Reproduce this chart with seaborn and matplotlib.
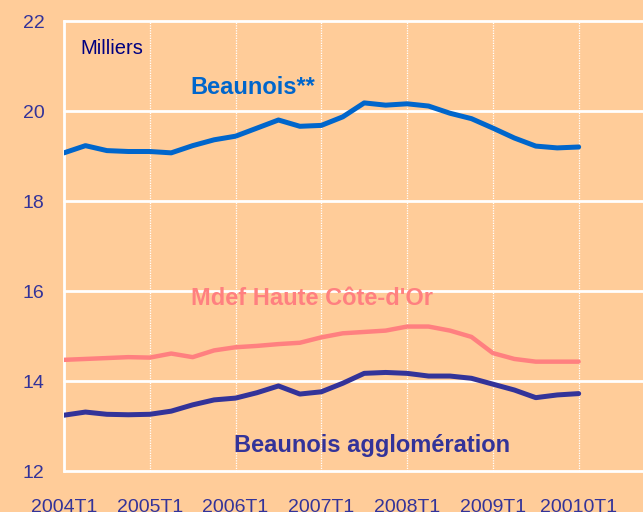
import seaborn as sns
import matplotlib.pyplot as plt
import pandas as pd
import numpy as np

# Trimestres 2004T1 -> 2010T1
trimestres = list(range(25))
annees = ['2004T1', '2005T1', '2006T1', '2007T1', '2008T1', '2009T1', '20010T1']

beaunois = [19.07, 19.23, 19.12, 19.10, 19.10, 19.07, 19.23, 19.36, 19.44, 19.62,
            19.80, 19.66, 19.68, 19.87, 20.18, 20.13, 20.16, 20.11, 19.95, 19.83,
            19.62, 19.40, 19.22, 19.18, 19.20]
mdef = [14.47, 14.49, 14.51, 14.53, 14.52, 14.61, 14.53, 14.68, 14.75, 14.78,
        14.82, 14.85, 14.97, 15.06, 15.09, 15.12, 15.21, 15.21, 15.12, 14.98,
        14.62, 14.49, 14.43, 14.43, 14.43]
agglo = [13.24, 13.31, 13.26, 13.25, 13.26, 13.33, 13.47, 13.58, 13.62, 13.74,
         13.89, 13.71, 13.76, 13.95, 14.17, 14.19, 14.17, 14.11, 14.11, 14.06,
         13.93, 13.80, 13.63, 13.69, 13.72]

df = pd.DataFrame({'trim': trimestres, 'beaunois': beaunois, 'mdef': mdef, 'agglo': agglo})

fond = '#FFCC99'
sns.set_style('white', {'axes.facecolor': fond, 'figure.facecolor': fond})
plt.rcParams['font.family'] = ['Liberation Sans', 'DejaVu Sans']

fig = plt.figure(figsize=(6.43, 5.12), dpi=100)
ax = fig.add_axes([64 / 643, 41 / 512, 579 / 643, 450 / 512])

# Grille
for v in [12, 14, 16, 18, 20, 22]:
    ax.axhline(v, color='white', lw=2, zorder=1, clip_on=False)
for x in range(4, 25, 4):
    ax.axvline(x, color='white', lw=0.9, ls=(0, (1, 1)), zorder=1)

sns.lineplot(data=df, x='trim', y='beaunois', color='#0066CC', lw=3.6, ax=ax, zorder=3)
sns.lineplot(data=df, x='trim', y='mdef', color='#FF8080', lw=3.2, ax=ax, zorder=3)
sns.lineplot(data=df, x='trim', y='agglo', color='#333399', lw=3.6, ax=ax, zorder=3)

ax.set_xlim(0, 27)
ax.set_ylim(12, 22)
ax.set_xticks(range(0, 25, 4))
ax.set_xticklabels(annees)
ax.set_yticks([12, 14, 16, 18, 20, 22])
ax.set_xlabel('')
ax.set_ylabel('')
ax.tick_params(axis='both', length=0, labelsize=14, colors='#333399')
ax.tick_params(axis='x', pad=20)
ax.tick_params(axis='y', pad=14)

for s in ['top', 'right', 'bottom']:
    ax.spines[s].set_visible(False)
ax.spines['left'].set_color('white')
ax.spines['left'].set_linewidth(2)

ax.text(0.75, 21.4, 'Milliers', fontsize=14.5, color='#000080', va='center')
ax.text(8.8, 20.53, 'Beaunois**', fontsize=17, fontweight='bold', color='#0066CC', ha='center', va='center')
ax.text(11.55, 15.84, "Mdef Haute Côte-d'Or", fontsize=17, fontweight='bold', color='#FF8080', ha='center', va='center')
ax.text(14.35, 12.56, 'Beaunois agglomération', fontsize=17, fontweight='bold', color='#333399', ha='center', va='center')

plt.savefig('out.png', dpi=100, facecolor=fond)
